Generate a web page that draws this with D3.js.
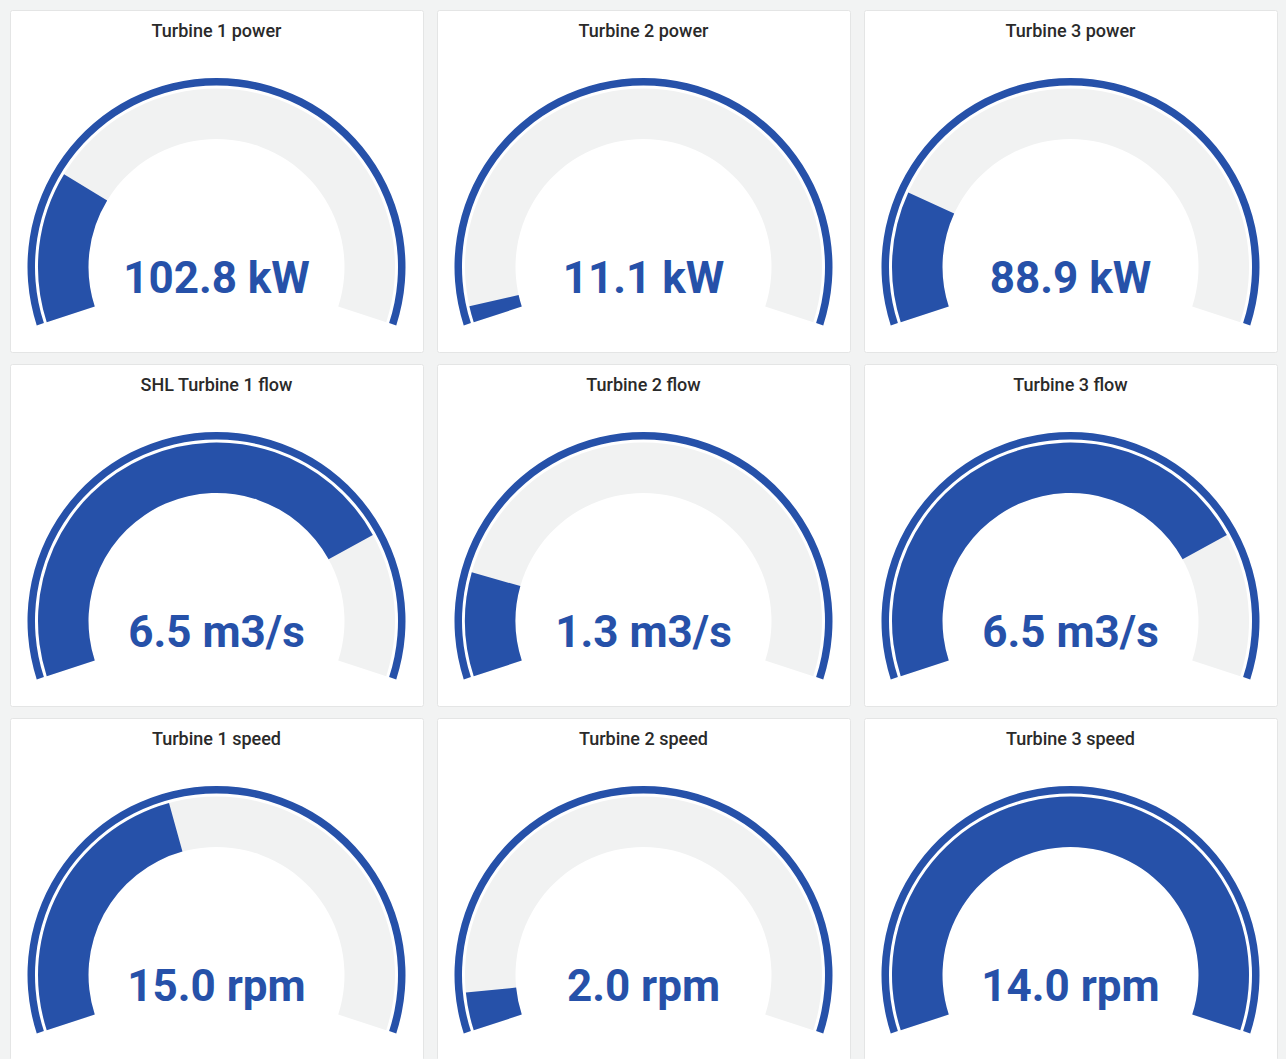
<!DOCTYPE html>
<html>
<head>
<meta charset="utf-8">
<script src="https://cdn.jsdelivr.net/npm/d3@7"></script>
<style>
  html, body { margin: 0; padding: 0; background: #f2f3f3; }
  svg { display: block; }
  .panel-bg { fill: #ffffff; stroke: #e4e5e5; stroke-width: 1; }
  .panel-title { font-family: Roboto, "Noto Sans", sans-serif; font-size: 18px; font-weight: 500; fill: #2a2a2a; }
  .gauge-value { font-family: Roboto, "Noto Sans", sans-serif; font-size: 44px; font-weight: 700; }
</style>
</head>
<body>
<script>
// Les donnees des neuf jauges (lecture ligne par ligne).
const titles = [
    "Turbine 1 power", "Turbine 2 power", "Turbine 3 power",
    "SHL Turbine 1 flow", "Turbine 2 flow", "Turbine 3 flow",
    "Turbine 1 speed", "Turbine 2 speed", "Turbine 3 speed"
];
const values = [102.8, 11.1, 88.9, 6.5, 1.3, 6.5, 15.0, 2.0, 14.0];
const units = ["kW", "kW", "kW", "m3/s", "m3/s", "m3/s", "rpm", "rpm", "rpm"];
const minValues = [0, 0, 0, 0, 0, 0, 0, 0, 0];
const maxValues = [450, 450, 450, 8.3, 8.3, 8.3, 35, 35, 14];

const width = 1286;
const height = 1059;

const config = {
    cols: 3,
    panelX0: 10,
    panelY0: 10,
    panelW: 413,
    panelH: 342,
    gapX: 14,
    gapY: 12,
    centerY: 257,
    thresholdOuter: 189,
    thresholdInner: 181.5,
    bandOuter: 178.5,
    bandInner: 128,
    titleY: 27,
    valueY: 283,
    blue: "#2651a9",
    grey: "#f1f2f2"
};

// Angle de la jauge : 216 degres, ouverte vers le bas.
const startAngle = -0.6 * Math.PI;
const endAngle = 0.6 * Math.PI;

const svg = d3.select("body").append("svg")
    .attr("width", width)
    .attr("height", height);

const panels = svg.selectAll(".panel")
    .data(titles.map(function(t, i) {
        return { title: t, value: values[i], unit: units[i], min: minValues[i], max: maxValues[i], index: i };
    }))
    .enter()
    .append("g")
    .attr("class", "panel")
    .attr("transform", function(d) {
        const col = d.index % config.cols;
        const row = Math.floor(d.index / config.cols);
        const x = config.panelX0 + col * (config.panelW + config.gapX);
        const y = config.panelY0 + row * (config.panelH + config.gapY);
        return "translate(" + x + "," + y + ")";
    });

panels.append("rect")
    .attr("class", "panel-bg")
    .attr("x", 0.5)
    .attr("y", 0.5)
    .attr("width", config.panelW)
    .attr("height", config.panelH)
    .attr("rx", 2);

panels.append("text")
    .attr("class", "panel-title")
    .attr("x", config.panelW / 2)
    .attr("y", config.titleY)
    .attr("text-anchor", "middle")
    .text(function(d) { return d.title; });

const gauges = panels.append("g")
    .attr("transform", "translate(" + (config.panelW / 2) + "," + config.centerY + ")");

const thresholdArc = d3.arc()
    .innerRadius(config.thresholdInner)
    .outerRadius(config.thresholdOuter);

const bandArc = d3.arc()
    .innerRadius(config.bandInner)
    .outerRadius(config.bandOuter);

// Seuil : un seul niveau, bleu sur toute la plage.
gauges.append("path")
    .attr("fill", config.blue)
    .attr("d", thresholdArc({ startAngle: startAngle, endAngle: endAngle }));

// Fond gris de la jauge.
gauges.append("path")
    .attr("fill", config.grey)
    .attr("d", bandArc({ startAngle: startAngle, endAngle: endAngle }));

// Partie remplie selon la valeur.
gauges.append("path")
    .attr("fill", config.blue)
    .attr("d", function(d) {
        const angle = d3.scaleLinear()
            .domain([d.min, d.max])
            .range([startAngle, endAngle])
            .clamp(true);
        return bandArc({ startAngle: startAngle, endAngle: angle(d.value) });
    });

gauges.append("text")
    .attr("class", "gauge-value")
    .attr("x", 0)
    .attr("y", config.valueY - config.centerY)
    .attr("text-anchor", "middle")
    .attr("fill", config.blue)
    .text(function(d) { return d3.format(".1f")(d.value) + " " + d.unit; });
</script>
</body>
</html>
